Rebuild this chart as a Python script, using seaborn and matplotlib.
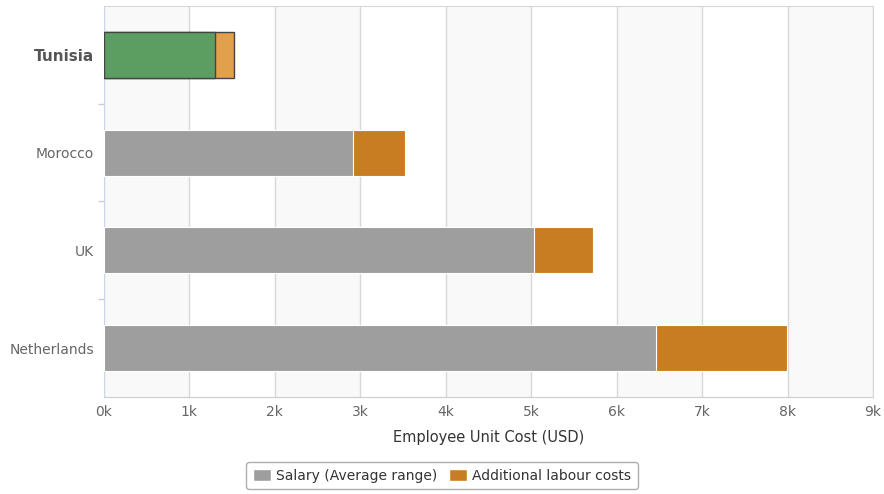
import pandas as pd
import seaborn as sns
import matplotlib.pyplot as plt
from matplotlib.patches import Patch

countries = ['Tunisia', 'Morocco', 'UK', 'Netherlands']
salary = [1300, 2910, 5030, 6460]
additional = [220, 610, 690, 1530]
xticks = [0, 1000, 2000, 3000, 4000, 5000, 6000, 7000, 8000, 9000]

df = pd.DataFrame({'country': countries, 'salary': salary, 'additional': additional})
df['total'] = df['salary'] + df['additional']

sns.set_style('white')
plt.rcParams['font.family'] = ['DejaVu Sans']

fig = plt.figure(figsize=(8.84, 4.94), dpi=100)
ax = fig.add_axes([0.1176, 0.1964, 0.87, 0.7915])

# alternating bands
for i in range(0, 9, 2):
    ax.axvspan(i * 1000, (i + 1) * 1000, color='#f9f9f9', zorder=0, lw=0)

orange_pal = {'Tunisia': '#e0a04c', 'Morocco': '#c97d22', 'UK': '#c97d22', 'Netherlands': '#c97d22'}
salary_pal = {'Tunisia': '#5c9e62', 'Morocco': '#9e9e9e', 'UK': '#9e9e9e', 'Netherlands': '#9e9e9e'}

sns.barplot(data=df, x='total', y='country', hue='country', palette=orange_pal,
            legend=False, orient='h', width=0.47, ax=ax, zorder=3, linewidth=0.8,
            edgecolor='white', saturation=1)
sns.barplot(data=df, x='salary', y='country', hue='country', palette=salary_pal,
            legend=False, orient='h', width=0.47, ax=ax, zorder=3, linewidth=0.8,
            edgecolor='white', saturation=1)

# Tunisia highlighted with dark outline
for p in ax.patches:
    if abs(p.get_y() + p.get_height() / 2) < 0.01:
        p.set_edgecolor('#444444')
        p.set_linewidth(1.0)

ax.set_xlim(0, 9000)
ax.set_ylim(3.5, -0.5)
ax.set_xticks(xticks)
ax.set_xticklabels([f'{int(v / 1000)}k' for v in xticks])
ax.xaxis.grid(True, color='#d8d8d8', lw=1, zorder=1)
ax.set_axisbelow(True)

ax.set_xlabel('Employee Unit Cost (USD)', fontsize=10.5, color='#333333', labelpad=8)
ax.set_ylabel('')
ax.tick_params(axis='x', length=0, colors='#666666', labelsize=10, pad=6)
ax.tick_params(axis='y', which='major', length=0, colors='#666666', labelsize=10, pad=7)
ax.set_yticks([0.5, 1.5, 2.5], minor=True)
ax.tick_params(axis='y', which='minor', left=True, length=4, color='#c8ccd4', width=1)

for lbl in ax.get_yticklabels():
    if lbl.get_text() == 'Tunisia':
        lbl.set_fontweight('bold')
        lbl.set_fontsize(11)
        lbl.set_color('#555555')

ax.spines['top'].set_color('#d8d8d8')
ax.spines['right'].set_color('#d8d8d8')
ax.spines['left'].set_color('#ccd6eb')
ax.spines['bottom'].set_color('#cccccc')

handles = [Patch(facecolor='#9e9e9e', label='Salary (Average range)'),
           Patch(facecolor='#c97d22', label='Additional labour costs')]
leg = fig.legend(handles=handles, loc='center', bbox_to_anchor=(0.5, 0.037), ncol=2,
                 frameon=True, fancybox=True, edgecolor='#999999', fontsize=10,
                 handlelength=1.3, handleheight=1.0, handletextpad=0.4, columnspacing=0.8,
                 borderpad=0.45)
for t in leg.get_texts():
    t.set_color('#333333')

fig.savefig('out.png', dpi=100)
